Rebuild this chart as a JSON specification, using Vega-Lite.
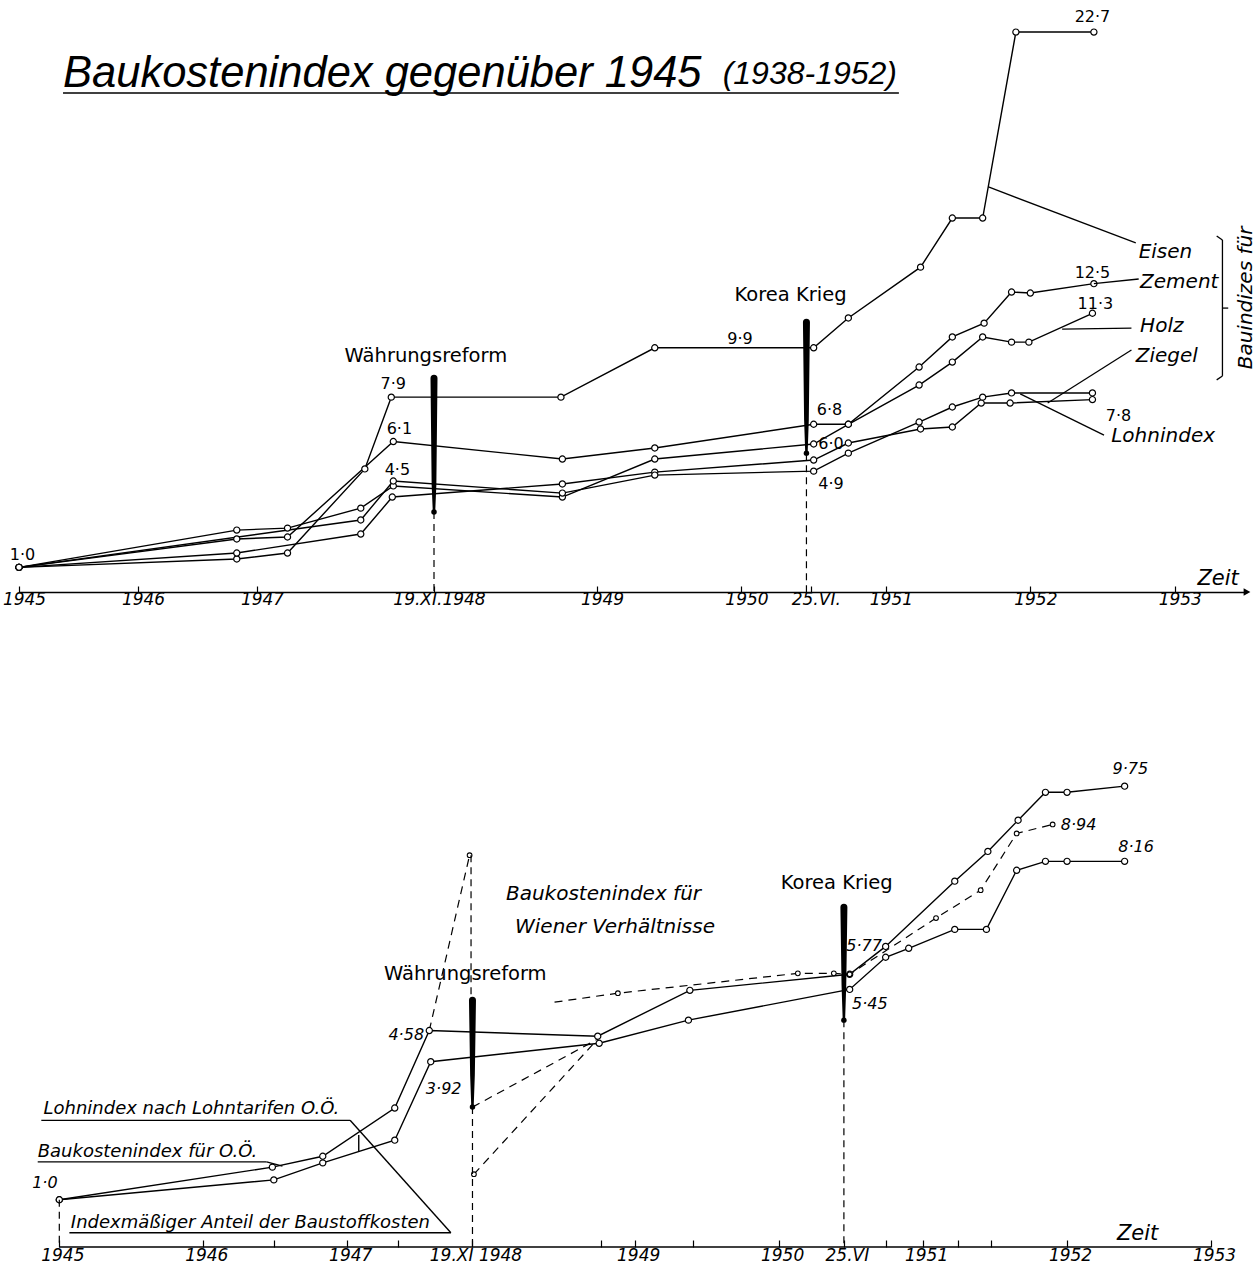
{
  "$schema": "https://vega.github.io/schema/vega-lite/v6.json",
  "background": "white",
  "padding": {"left": 2, "top": 0, "right": 0, "bottom": 0},
  "bounds": "flush",
  "spacing": 154,
  "config": {
    "view": {"stroke": null},
    "font": "DejaVu Sans",
    "axis": {
      "grid": false, "title": null, "domainColor": "black", "tickColor": "black",
      "labelColor": "black", "labelFont": "DejaVu Sans", "labelFontStyle": "italic",
      "labelOverlap": false, "labelFlush": false, "labelBound": false
    }
  },
  "datasets": {
    "oben": [
      {"Reihe": "Eisen", "Jahr": 1945, "Index": 1.0},
      {"Reihe": "Eisen", "Jahr": 1946.83, "Index": 1.34},
      {"Reihe": "Eisen", "Jahr": 1947.15, "Index": 1.58},
      {"Reihe": "Eisen", "Jahr": 1947.53, "Index": 4.99},
      {"Reihe": "Eisen", "Jahr": 1947.66, "Index": 7.9},
      {"Reihe": "Eisen", "Jahr": 1948.75, "Index": 7.9},
      {"Reihe": "Eisen", "Jahr": 1949.40, "Index": 9.9},
      {"Reihe": "Eisen", "Jahr": 1950.50, "Index": 9.9},
      {"Reihe": "Eisen", "Jahr": 1950.74, "Index": 11.11},
      {"Reihe": "Eisen", "Jahr": 1951.24, "Index": 13.17},
      {"Reihe": "Eisen", "Jahr": 1951.46, "Index": 15.16},
      {"Reihe": "Eisen", "Jahr": 1951.67, "Index": 15.16},
      {"Reihe": "Eisen", "Jahr": 1951.90, "Index": 22.7},
      {"Reihe": "Eisen", "Jahr": 1952.44, "Index": 22.7},
      {"Reihe": "Zement", "Jahr": 1945, "Index": 1.0},
      {"Reihe": "Zement", "Jahr": 1946.83, "Index": 2.15},
      {"Reihe": "Zement", "Jahr": 1947.15, "Index": 2.23},
      {"Reihe": "Zement", "Jahr": 1947.67, "Index": 6.1},
      {"Reihe": "Zement", "Jahr": 1948.76, "Index": 5.39},
      {"Reihe": "Zement", "Jahr": 1949.40, "Index": 5.84},
      {"Reihe": "Zement", "Jahr": 1950.50, "Index": 6.8},
      {"Reihe": "Zement", "Jahr": 1950.74, "Index": 6.8},
      {"Reihe": "Zement", "Jahr": 1951.23, "Index": 9.12},
      {"Reihe": "Zement", "Jahr": 1951.46, "Index": 10.34},
      {"Reihe": "Zement", "Jahr": 1951.68, "Index": 10.9},
      {"Reihe": "Zement", "Jahr": 1951.87, "Index": 12.16},
      {"Reihe": "Zement", "Jahr": 1952.0, "Index": 12.12},
      {"Reihe": "Zement", "Jahr": 1952.44, "Index": 12.5},
      {"Reihe": "Holz", "Jahr": 1945, "Index": 1.0},
      {"Reihe": "Holz", "Jahr": 1946.83, "Index": 2.51},
      {"Reihe": "Holz", "Jahr": 1947.15, "Index": 2.59},
      {"Reihe": "Holz", "Jahr": 1947.51, "Index": 3.4},
      {"Reihe": "Holz", "Jahr": 1947.67, "Index": 4.3},
      {"Reihe": "Holz", "Jahr": 1948.76, "Index": 3.85},
      {"Reihe": "Holz", "Jahr": 1949.40, "Index": 5.39},
      {"Reihe": "Holz", "Jahr": 1950.50, "Index": 6.0},
      {"Reihe": "Holz", "Jahr": 1950.74, "Index": 6.8},
      {"Reihe": "Holz", "Jahr": 1951.23, "Index": 8.39},
      {"Reihe": "Holz", "Jahr": 1951.46, "Index": 9.32},
      {"Reihe": "Holz", "Jahr": 1951.67, "Index": 10.34},
      {"Reihe": "Holz", "Jahr": 1951.87, "Index": 10.13},
      {"Reihe": "Holz", "Jahr": 1951.99, "Index": 10.13},
      {"Reihe": "Holz", "Jahr": 1952.43, "Index": 11.3},
      {"Reihe": "Ziegel", "Jahr": 1945, "Index": 1.0},
      {"Reihe": "Ziegel", "Jahr": 1946.83, "Index": 1.58},
      {"Reihe": "Ziegel", "Jahr": 1947.51, "Index": 2.35},
      {"Reihe": "Ziegel", "Jahr": 1947.665, "Index": 3.85},
      {"Reihe": "Ziegel", "Jahr": 1948.76, "Index": 4.38},
      {"Reihe": "Ziegel", "Jahr": 1949.40, "Index": 4.86},
      {"Reihe": "Ziegel", "Jahr": 1950.50, "Index": 5.35},
      {"Reihe": "Ziegel", "Jahr": 1950.74, "Index": 6.04},
      {"Reihe": "Ziegel", "Jahr": 1951.24, "Index": 6.61},
      {"Reihe": "Ziegel", "Jahr": 1951.46, "Index": 6.69},
      {"Reihe": "Ziegel", "Jahr": 1951.66, "Index": 7.66},
      {"Reihe": "Ziegel", "Jahr": 1951.86, "Index": 7.66},
      {"Reihe": "Ziegel", "Jahr": 1952.43, "Index": 7.8},
      {"Reihe": "Lohnindex", "Jahr": 1945, "Index": 1.0},
      {"Reihe": "Lohnindex", "Jahr": 1947.51, "Index": 2.92},
      {"Reihe": "Lohnindex", "Jahr": 1947.67, "Index": 4.5},
      {"Reihe": "Lohnindex", "Jahr": 1948.76, "Index": 4.01},
      {"Reihe": "Lohnindex", "Jahr": 1949.40, "Index": 4.74},
      {"Reihe": "Lohnindex", "Jahr": 1950.50, "Index": 4.9},
      {"Reihe": "Lohnindex", "Jahr": 1950.74, "Index": 5.63},
      {"Reihe": "Lohnindex", "Jahr": 1951.23, "Index": 6.89},
      {"Reihe": "Lohnindex", "Jahr": 1951.46, "Index": 7.5},
      {"Reihe": "Lohnindex", "Jahr": 1951.67, "Index": 7.9},
      {"Reihe": "Lohnindex", "Jahr": 1951.87, "Index": 8.07},
      {"Reihe": "Lohnindex", "Jahr": 1952.43, "Index": 8.07}
    ],
    "obenEreignis": [
      {"Ereignis": "Währungsreform", "Teil": "Kopf", "Jahr": 1947.87, "Index": 8.67},
      {"Ereignis": "Währungsreform", "Teil": "Mitte", "Jahr": 1947.87, "Index": 4.34},
      {"Ereignis": "Währungsreform", "Teil": "Ende", "Jahr": 1947.87, "Index": 3.24},
      {"Ereignis": "Korea Krieg", "Teil": "Kopf", "Jahr": 1950.45, "Index": 10.94},
      {"Ereignis": "Korea Krieg", "Teil": "Mitte", "Jahr": 1950.45, "Index": 6.97},
      {"Ereignis": "Korea Krieg", "Teil": "Ende", "Jahr": 1950.45, "Index": 5.63}
    ],
    "obenStriche": [
      {"Jahr": 1945.37, "Index": 20.23, "Jahr2": 1951.09, "Index2": 20.23},
      {"Jahr": 1951.71, "Index": 16.42, "Jahr2": 1952.73, "Index2": 14.15},
      {"Jahr": 1952.44, "Index": 12.5, "Jahr2": 1952.75, "Index2": 12.69},
      {"Jahr": 1952.22, "Index": 10.66, "Jahr2": 1952.70, "Index2": 10.7},
      {"Jahr": 1952.12, "Index": 7.66, "Jahr2": 1952.70, "Index2": 9.81},
      {"Jahr": 1951.93, "Index": 8.03, "Jahr2": 1952.51, "Index2": 6.36},
      {"Jahr": 1953.33, "Index": 14.27, "Jahr2": 1953.33, "Index2": 8.76},
      {"Jahr": 1953.29, "Index": 14.43, "Jahr2": 1953.33, "Index2": 14.27},
      {"Jahr": 1953.29, "Index": 8.6, "Jahr2": 1953.33, "Index2": 8.76},
      {"Jahr": 1953.33, "Index": 11.51, "Jahr2": 1953.37, "Index2": 11.51}
    ],
    "obenGestrichelt": [
      {"Jahr": 1947.87, "Index": 3.24, "Index2": 0},
      {"Jahr": 1950.45, "Index": 5.63, "Index2": 0}
    ],
    "obenText": [
      {"Art": "wert", "Text": "1·0", "Jahr": 1945.03, "Index": 1.3},
      {"Art": "wert", "Text": "7·9", "Jahr": 1947.67, "Index": 8.23},
      {"Art": "wert", "Text": "6·1", "Jahr": 1947.70, "Index": 6.4},
      {"Art": "wert", "Text": "4·5", "Jahr": 1947.69, "Index": 4.74},
      {"Art": "wert", "Text": "9·9", "Jahr": 1949.99, "Index": 10.05},
      {"Art": "wert", "Text": "6·8", "Jahr": 1950.61, "Index": 7.17},
      {"Art": "wert", "Text": "6·0", "Jahr": 1950.62, "Index": 5.8},
      {"Art": "wert", "Text": "4·9", "Jahr": 1950.62, "Index": 4.18},
      {"Art": "wert", "Text": "22·7", "Jahr": 1952.43, "Index": 23.1},
      {"Art": "wert", "Text": "12·5", "Jahr": 1952.43, "Index": 12.73},
      {"Art": "wert", "Text": "11·3", "Jahr": 1952.45, "Index": 11.47},
      {"Art": "wert", "Text": "7·8", "Jahr": 1952.61, "Index": 6.93},
      {"Art": "reihe", "Text": "Eisen", "Jahr": 1952.75, "Index": 13.54},
      {"Art": "reihe", "Text": "Zement", "Jahr": 1952.76, "Index": 12.32},
      {"Art": "reihe", "Text": "Holz", "Jahr": 1952.76, "Index": 10.54},
      {"Art": "reihe", "Text": "Ziegel", "Jahr": 1952.73, "Index": 9.32},
      {"Art": "reihe", "Text": "Lohnindex", "Jahr": 1952.56, "Index": 6.08},
      {"Art": "ereignis", "Text": "Währungsreform", "Jahr": 1947.83, "Index": 9.32},
      {"Art": "ereignis", "Text": "Korea Krieg", "Jahr": 1950.34, "Index": 11.8},
      {"Art": "titel", "Text": "Baukostenindex gegenüber 1945", "Jahr": 1945.37, "Index": 20.47},
      {"Art": "titelzusatz", "Text": "(1938-1952)", "Jahr": 1949.87, "Index": 20.6},
      {"Art": "zeit", "Text": "Zeit", "Jahr": 1953.3, "Index": 0.3},
      {"Art": "klammer", "Text": "Bauindizes für", "Jahr": 1953.49, "Index": 11.92}
    ],
    "unten": [
      {"Reihe": "Lohnindex nach Lohntarifen O.Ö.", "Abschnitt": "L", "Messpunkt": 1, "Jahr": 1945, "Index": 1.0},
      {"Reihe": "Lohnindex nach Lohntarifen O.Ö.", "Abschnitt": "L", "Messpunkt": 1, "Jahr": 1946.48, "Index": 1.69},
      {"Reihe": "Lohnindex nach Lohntarifen O.Ö.", "Abschnitt": "L", "Messpunkt": 1, "Jahr": 1946.83, "Index": 1.92},
      {"Reihe": "Lohnindex nach Lohntarifen O.Ö.", "Abschnitt": "L", "Messpunkt": 1, "Jahr": 1947.33, "Index": 2.94},
      {"Reihe": "Lohnindex nach Lohntarifen O.Ö.", "Abschnitt": "L", "Messpunkt": 1, "Jahr": 1947.57, "Index": 4.58},
      {"Reihe": "Lohnindex nach Lohntarifen O.Ö.", "Abschnitt": "L", "Messpunkt": 1, "Jahr": 1948.74, "Index": 4.46},
      {"Reihe": "Lohnindex nach Lohntarifen O.Ö.", "Abschnitt": "L", "Messpunkt": 1, "Jahr": 1949.38, "Index": 5.43},
      {"Reihe": "Lohnindex nach Lohntarifen O.Ö.", "Abschnitt": "L", "Messpunkt": 1, "Jahr": 1950.49, "Index": 5.77},
      {"Reihe": "Lohnindex nach Lohntarifen O.Ö.", "Abschnitt": "L", "Messpunkt": 1, "Jahr": 1950.74, "Index": 6.36},
      {"Reihe": "Lohnindex nach Lohntarifen O.Ö.", "Abschnitt": "L", "Messpunkt": 1, "Jahr": 1951.22, "Index": 7.74},
      {"Reihe": "Lohnindex nach Lohntarifen O.Ö.", "Abschnitt": "L", "Messpunkt": 1, "Jahr": 1951.45, "Index": 8.37},
      {"Reihe": "Lohnindex nach Lohntarifen O.Ö.", "Abschnitt": "L", "Messpunkt": 1, "Jahr": 1951.66, "Index": 9.03},
      {"Reihe": "Lohnindex nach Lohntarifen O.Ö.", "Abschnitt": "L", "Messpunkt": 1, "Jahr": 1951.85, "Index": 9.62},
      {"Reihe": "Lohnindex nach Lohntarifen O.Ö.", "Abschnitt": "L", "Messpunkt": 1, "Jahr": 1952.0, "Index": 9.62},
      {"Reihe": "Lohnindex nach Lohntarifen O.Ö.", "Abschnitt": "L", "Messpunkt": 1, "Jahr": 1952.4, "Index": 9.75},
      {"Reihe": "Baukostenindex für O.Ö.", "Abschnitt": "B", "Messpunkt": 1, "Jahr": 1945, "Index": 1.0},
      {"Reihe": "Baukostenindex für O.Ö.", "Abschnitt": "B", "Messpunkt": 1, "Jahr": 1946.49, "Index": 1.42},
      {"Reihe": "Baukostenindex für O.Ö.", "Abschnitt": "B", "Messpunkt": 1, "Jahr": 1946.83, "Index": 1.78},
      {"Reihe": "Baukostenindex für O.Ö.", "Abschnitt": "B", "Messpunkt": 1, "Jahr": 1947.33, "Index": 2.26},
      {"Reihe": "Baukostenindex für O.Ö.", "Abschnitt": "B", "Messpunkt": 1, "Jahr": 1947.58, "Index": 3.92},
      {"Reihe": "Baukostenindex für O.Ö.", "Abschnitt": "B", "Messpunkt": 1, "Jahr": 1948.75, "Index": 4.31},
      {"Reihe": "Baukostenindex für O.Ö.", "Abschnitt": "B", "Messpunkt": 1, "Jahr": 1949.37, "Index": 4.8},
      {"Reihe": "Baukostenindex für O.Ö.", "Abschnitt": "B", "Messpunkt": 1, "Jahr": 1950.49, "Index": 5.45},
      {"Reihe": "Baukostenindex für O.Ö.", "Abschnitt": "B", "Messpunkt": 1, "Jahr": 1950.74, "Index": 6.13},
      {"Reihe": "Baukostenindex für O.Ö.", "Abschnitt": "B", "Messpunkt": 1, "Jahr": 1950.9, "Index": 6.32},
      {"Reihe": "Baukostenindex für O.Ö.", "Abschnitt": "B", "Messpunkt": 1, "Jahr": 1951.22, "Index": 6.72},
      {"Reihe": "Baukostenindex für O.Ö.", "Abschnitt": "B", "Messpunkt": 1, "Jahr": 1951.44, "Index": 6.72},
      {"Reihe": "Baukostenindex für O.Ö.", "Abschnitt": "B", "Messpunkt": 1, "Jahr": 1951.65, "Index": 7.97},
      {"Reihe": "Baukostenindex für O.Ö.", "Abschnitt": "B", "Messpunkt": 1, "Jahr": 1951.85, "Index": 8.16},
      {"Reihe": "Baukostenindex für O.Ö.", "Abschnitt": "B", "Messpunkt": 1, "Jahr": 1952.0, "Index": 8.16},
      {"Reihe": "Baukostenindex für O.Ö.", "Abschnitt": "B", "Messpunkt": 1, "Jahr": 1952.4, "Index": 8.16},
      {"Reihe": "Baukostenindex für Wiener Verhältnisse", "Abschnitt": "Wa", "Messpunkt": 0, "Jahr": 1947.57, "Index": 4.58},
      {"Reihe": "Baukostenindex für Wiener Verhältnisse", "Abschnitt": "Wa", "Messpunkt": 1, "Jahr": 1947.85, "Index": 8.29},
      {"Reihe": "Baukostenindex für Wiener Verhältnisse", "Abschnitt": "Wb", "Messpunkt": 0, "Jahr": 1947.87, "Index": 2.96},
      {"Reihe": "Baukostenindex für Wiener Verhältnisse", "Abschnitt": "Wb", "Messpunkt": 0, "Jahr": 1948.74, "Index": 4.4},
      {"Reihe": "Baukostenindex für Wiener Verhältnisse", "Abschnitt": "Wc", "Messpunkt": 1, "Jahr": 1947.88, "Index": 1.54},
      {"Reihe": "Baukostenindex für Wiener Verhältnisse", "Abschnitt": "Wc", "Messpunkt": 0, "Jahr": 1948.74, "Index": 4.4},
      {"Reihe": "Baukostenindex für Wiener Verhältnisse", "Abschnitt": "Wd", "Messpunkt": 0, "Jahr": 1948.44, "Index": 5.18},
      {"Reihe": "Baukostenindex für Wiener Verhältnisse", "Abschnitt": "Wd", "Messpunkt": 1, "Jahr": 1948.88, "Index": 5.37},
      {"Reihe": "Baukostenindex für Wiener Verhältnisse", "Abschnitt": "Wd", "Messpunkt": 1, "Jahr": 1950.13, "Index": 5.79},
      {"Reihe": "Baukostenindex für Wiener Verhältnisse", "Abschnitt": "Wd", "Messpunkt": 1, "Jahr": 1950.38, "Index": 5.79},
      {"Reihe": "Baukostenindex für Wiener Verhältnisse", "Abschnitt": "Wd", "Messpunkt": 1, "Jahr": 1950.49, "Index": 5.77},
      {"Reihe": "Baukostenindex für Wiener Verhältnisse", "Abschnitt": "Wd", "Messpunkt": 1, "Jahr": 1951.09, "Index": 6.96},
      {"Reihe": "Baukostenindex für Wiener Verhältnisse", "Abschnitt": "Wd", "Messpunkt": 1, "Jahr": 1951.4, "Index": 7.55},
      {"Reihe": "Baukostenindex für Wiener Verhältnisse", "Abschnitt": "Wd", "Messpunkt": 1, "Jahr": 1951.65, "Index": 8.75},
      {"Reihe": "Baukostenindex für Wiener Verhältnisse", "Abschnitt": "Wd", "Messpunkt": 1, "Jahr": 1951.9, "Index": 8.94}
    ],
    "untenEreignis": [
      {"Ereignis": "Währungsreform", "Teil": "Kopf", "Jahr": 1947.87, "Index": 5.22},
      {"Ereignis": "Währungsreform", "Teil": "Mitte", "Jahr": 1947.87, "Index": 3.64},
      {"Ereignis": "Währungsreform", "Teil": "Ende", "Jahr": 1947.87, "Index": 2.96},
      {"Ereignis": "Korea Krieg", "Teil": "Kopf", "Jahr": 1950.45, "Index": 7.19},
      {"Ereignis": "Korea Krieg", "Teil": "Mitte", "Jahr": 1950.45, "Index": 5.54},
      {"Ereignis": "Korea Krieg", "Teil": "Ende", "Jahr": 1950.45, "Index": 4.8}
    ],
    "untenStriche": [
      {"Jahr": 1945, "Index": 0, "Jahr2": 1953, "Index2": 0},
      {"Jahr": 1944.875, "Index": 2.68, "Jahr2": 1947.02, "Index2": 2.68},
      {"Jahr": 1947.02, "Index": 2.68, "Jahr2": 1947.72, "Index2": 0.3},
      {"Jahr": 1944.85, "Index": 1.8, "Jahr2": 1946.44, "Index2": 1.8},
      {"Jahr": 1946.44, "Index": 1.8, "Jahr2": 1946.55, "Index2": 1.71},
      {"Jahr": 1945.07, "Index": 0.3, "Jahr2": 1947.72, "Index2": 0.3},
      {"Jahr": 1947.08, "Index": 2.37, "Jahr2": 1947.08, "Index2": 2.01}
    ],
    "untenGestrichelt": [
      {"Jahr": 1945, "Index": 1.0, "Index2": 0},
      {"Jahr": 1947.86, "Index": 8.29, "Index2": 5.22},
      {"Jahr": 1947.87, "Index": 2.96, "Index2": 0},
      {"Jahr": 1950.45, "Index": 4.8, "Index2": 0}
    ],
    "untenText": [
      {"Art": "wert", "Text": "1·0", "Jahr": 1944.9, "Index": 1.25},
      {"Art": "wert", "Text": "4·58", "Jahr": 1947.41, "Index": 4.38},
      {"Art": "wert", "Text": "3·92", "Jahr": 1947.67, "Index": 3.24},
      {"Art": "wert", "Text": "5·77", "Jahr": 1950.59, "Index": 6.26},
      {"Art": "wert", "Text": "5·45", "Jahr": 1950.63, "Index": 5.04},
      {"Art": "wert", "Text": "9·75", "Jahr": 1952.44, "Index": 10.0},
      {"Art": "wert", "Text": "8·94", "Jahr": 1952.08, "Index": 8.82},
      {"Art": "wert", "Text": "8·16", "Jahr": 1952.48, "Index": 8.36},
      {"Art": "ereignis", "Text": "Währungsreform", "Jahr": 1947.82, "Index": 5.65},
      {"Art": "ereignis", "Text": "Korea Krieg", "Jahr": 1950.4, "Index": 7.57},
      {"Art": "wien", "Text": "Baukostenindex für", "Jahr": 1948.78, "Index": 7.34},
      {"Art": "wien", "Text": "Wiener Verhältnisse", "Jahr": 1948.86, "Index": 6.64},
      {"Art": "legende", "Text": "Lohnindex nach Lohntarifen O.Ö.", "Jahr": 1944.89, "Index": 2.81},
      {"Art": "legende", "Text": "Baukostenindex für O.Ö.", "Jahr": 1944.85, "Index": 1.9},
      {"Art": "legende", "Text": "Indexmäßiger Anteil der Baustoffkosten", "Jahr": 1945.08, "Index": 0.4},
      {"Art": "zeit", "Text": "Zeit", "Jahr": 1952.49, "Index": 0.15}
    ]
  },
  "vconcat": [
    {
      "width": 1228,
      "height": 592,
      "encoding": {
        "x": {
          "field": "Jahr", "type": "quantitative",
          "scale": {"domain": [1945, 1947, 1947.87, 1949, 1953.5], "range": [0, 238, 415, 578, 1228], "nice": false, "zero": false},
          "axis": {
            "values": [1945, 1946, 1947, 1947.87, 1949, 1950, 1950.48, 1951, 1952, 1953],
            "labelExpr": "abs(datum.value - 1947.87) < 0.01 ? '19.XI.1948' : (abs(datum.value - 1950.48) < 0.01 ? '25.VI.' : format(datum.value, 'd'))",
            "tickSize": -6, "tickWidth": 1.2, "domainWidth": 1.5, "labelFontSize": 17, "labelPadding": 5, "labelOffset": 5
          }
        },
        "y": {
          "field": "Index", "type": "quantitative",
          "scale": {"domain": [0, 24], "nice": false, "zero": true},
          "axis": null
        }
      },
      "layer": [
        {
          "data": {"name": "oben"},
          "mark": {"type": "line", "stroke": "black", "strokeWidth": 1.4},
          "encoding": {"detail": {"field": "Reihe"}}
        },
        {
          "data": {"name": "oben"},
          "mark": {"type": "point", "shape": "circle", "filled": true, "fill": "white", "stroke": "black", "strokeWidth": 1.2, "size": 38, "opacity": 1}
        },
        {
          "data": {"name": "obenStriche"},
          "mark": {"type": "rule", "stroke": "black", "strokeWidth": 1.3},
          "encoding": {"x2": {"field": "Jahr2"}, "y2": {"field": "Index2"}}
        },
        {
          "data": {"name": "obenGestrichelt"},
          "mark": {"type": "rule", "stroke": "black", "strokeWidth": 1.2, "strokeDash": [7, 5]},
          "encoding": {"y2": {"field": "Index2"}}
        },
        {
          "data": {"name": "obenEreignis"},
          "mark": {"type": "trail", "color": "black"},
          "encoding": {
            "detail": {"field": "Ereignis"},
            "order": {"field": "Index", "sort": "descending"},
            "size": {"field": "Teil", "type": "ordinal", "scale": {"domain": ["Kopf", "Mitte", "Ende"], "range": [7, 2.4, 1.2]}, "legend": null}
          }
        },
        {
          "data": {"name": "obenEreignis"},
          "transform": [{"filter": "datum.Teil == 'Ende'"}],
          "mark": {"type": "point", "shape": "circle", "filled": true, "color": "black", "size": 30, "opacity": 1}
        },
        {
          "data": {"name": "obenText"},
          "transform": [{"filter": "datum.Art == 'wert'"}],
          "mark": {"type": "text", "align": "center", "baseline": "alphabetic", "fontSize": 16, "font": "DejaVu Sans", "color": "black"},
          "encoding": {"text": {"field": "Text"}}
        },
        {
          "data": {"name": "obenText"},
          "transform": [{"filter": "datum.Art == 'reihe'"}],
          "mark": {"type": "text", "align": "left", "baseline": "alphabetic", "fontSize": 20, "fontStyle": "italic", "font": "DejaVu Sans", "color": "black"},
          "encoding": {"text": {"field": "Text"}}
        },
        {
          "data": {"name": "obenText"},
          "transform": [{"filter": "datum.Art == 'ereignis'"}],
          "mark": {"type": "text", "align": "center", "baseline": "alphabetic", "fontSize": 19.5, "font": "DejaVu Sans", "color": "black"},
          "encoding": {"text": {"field": "Text"}}
        },
        {
          "data": {"name": "obenText"},
          "transform": [{"filter": "datum.Art == 'titel'"}],
          "mark": {"type": "text", "align": "left", "baseline": "alphabetic", "fontSize": 43.5, "fontStyle": "italic", "font": "Liberation Sans", "color": "black"},
          "encoding": {"text": {"field": "Text"}}
        },
        {
          "data": {"name": "obenText"},
          "transform": [{"filter": "datum.Art == 'titelzusatz'"}],
          "mark": {"type": "text", "align": "left", "baseline": "alphabetic", "fontSize": 32, "fontStyle": "italic", "font": "Liberation Sans", "color": "black"},
          "encoding": {"text": {"field": "Text"}}
        },
        {
          "data": {"name": "obenText"},
          "transform": [{"filter": "datum.Art == 'zeit'"}],
          "mark": {"type": "text", "align": "center", "baseline": "alphabetic", "fontSize": 21, "fontStyle": "italic", "font": "DejaVu Sans", "color": "black"},
          "encoding": {"text": {"field": "Text"}}
        },
        {
          "data": {"name": "obenText"},
          "transform": [{"filter": "datum.Art == 'klammer'"}],
          "mark": {"type": "text", "align": "center", "baseline": "middle", "angle": 270, "fontSize": 20, "fontStyle": "italic", "font": "DejaVu Sans", "color": "black"},
          "encoding": {"text": {"field": "Text"}}
        },
        {
          "data": {"values": [{"Jahr": 1953.5, "Index": 0}]},
          "mark": {"type": "point", "shape": "triangle-right", "filled": true, "color": "black", "size": 60, "opacity": 1}
        }
      ]
    },
    {
      "width": 1192,
      "height": 501,
      "encoding": {
        "x": {
          "field": "Jahr", "type": "quantitative",
          "scale": {"domain": [1944.72, 1953], "nice": false, "zero": false},
          "axis": {
            "values": [1945, 1946, 1946.49, 1947, 1947.35, 1947.87, 1948.76, 1949, 1949.4, 1950, 1950.45, 1950.74, 1951, 1951.24, 1951.47, 1952, 1953],
            "labelExpr": "abs(datum.value - 1947.87) < 0.01 ? '19.XI 1948' : (abs(datum.value - 1950.45) < 0.01 ? '25.VI' : (datum.value % 1 == 0 ? format(datum.value, 'd') : ''))",
            "domain": false, "tickSize": -7, "tickWidth": 1.2, "labelFontSize": 17, "labelPadding": 7, "labelOffset": 3
          }
        },
        "y": {
          "field": "Index", "type": "quantitative",
          "scale": {"domain": [0, 10.6], "nice": false, "zero": true},
          "axis": null
        }
      },
      "layer": [
        {
          "data": {"name": "unten"},
          "transform": [{"filter": "datum.Abschnitt == 'L' || datum.Abschnitt == 'B'"}],
          "mark": {"type": "line", "stroke": "black", "strokeWidth": 1.4},
          "encoding": {"detail": {"field": "Abschnitt"}}
        },
        {
          "data": {"name": "unten"},
          "transform": [{"filter": "datum.Abschnitt != 'L' && datum.Abschnitt != 'B'"}],
          "mark": {"type": "line", "stroke": "black", "strokeWidth": 1.2, "strokeDash": [8, 6]},
          "encoding": {"detail": {"field": "Abschnitt"}}
        },
        {
          "data": {"name": "unten"},
          "transform": [{"filter": "datum.Abschnitt == 'L' || datum.Abschnitt == 'B'"}],
          "mark": {"type": "point", "shape": "circle", "filled": true, "fill": "white", "stroke": "black", "strokeWidth": 1.2, "size": 38, "opacity": 1}
        },
        {
          "data": {"name": "unten"},
          "transform": [{"filter": "datum.Abschnitt != 'L' && datum.Abschnitt != 'B' && datum.Messpunkt == 1"}],
          "mark": {"type": "point", "shape": "circle", "filled": true, "fill": "white", "stroke": "black", "strokeWidth": 1.1, "size": 22, "opacity": 1}
        },
        {
          "data": {"name": "untenStriche"},
          "mark": {"type": "rule", "stroke": "black", "strokeWidth": 1.4},
          "encoding": {"x2": {"field": "Jahr2"}, "y2": {"field": "Index2"}}
        },
        {
          "data": {"name": "untenGestrichelt"},
          "mark": {"type": "rule", "stroke": "black", "strokeWidth": 1.2, "strokeDash": [7, 5]},
          "encoding": {"y2": {"field": "Index2"}}
        },
        {
          "data": {"name": "untenEreignis"},
          "mark": {"type": "trail", "color": "black"},
          "encoding": {
            "detail": {"field": "Ereignis"},
            "order": {"field": "Index", "sort": "descending"},
            "size": {"field": "Teil", "type": "ordinal", "scale": {"domain": ["Kopf", "Mitte", "Ende"], "range": [7, 2.4, 1.2]}, "legend": null}
          }
        },
        {
          "data": {"name": "untenEreignis"},
          "transform": [{"filter": "datum.Teil == 'Ende'"}],
          "mark": {"type": "point", "shape": "circle", "filled": true, "color": "black", "size": 30, "opacity": 1}
        },
        {
          "data": {"name": "untenText"},
          "transform": [{"filter": "datum.Art == 'wert'"}],
          "mark": {"type": "text", "align": "center", "baseline": "alphabetic", "fontSize": 16, "fontStyle": "italic", "font": "DejaVu Sans", "color": "black"},
          "encoding": {"text": {"field": "Text"}}
        },
        {
          "data": {"name": "untenText"},
          "transform": [{"filter": "datum.Art == 'ereignis'"}],
          "mark": {"type": "text", "align": "center", "baseline": "alphabetic", "fontSize": 19.5, "font": "DejaVu Sans", "color": "black"},
          "encoding": {"text": {"field": "Text"}}
        },
        {
          "data": {"name": "untenText"},
          "transform": [{"filter": "datum.Art == 'wien'"}],
          "mark": {"type": "text", "align": "center", "baseline": "alphabetic", "fontSize": 20, "fontStyle": "italic", "font": "DejaVu Sans", "color": "black"},
          "encoding": {"text": {"field": "Text"}}
        },
        {
          "data": {"name": "untenText"},
          "transform": [{"filter": "datum.Art == 'legende'"}],
          "mark": {"type": "text", "align": "left", "baseline": "alphabetic", "fontSize": 18, "fontStyle": "italic", "font": "DejaVu Sans", "color": "black"},
          "encoding": {"text": {"field": "Text"}}
        },
        {
          "data": {"name": "untenText"},
          "transform": [{"filter": "datum.Art == 'zeit'"}],
          "mark": {"type": "text", "align": "center", "baseline": "alphabetic", "fontSize": 21, "fontStyle": "italic", "font": "DejaVu Sans", "color": "black"},
          "encoding": {"text": {"field": "Text"}}
        }
      ]
    }
  ]
}
